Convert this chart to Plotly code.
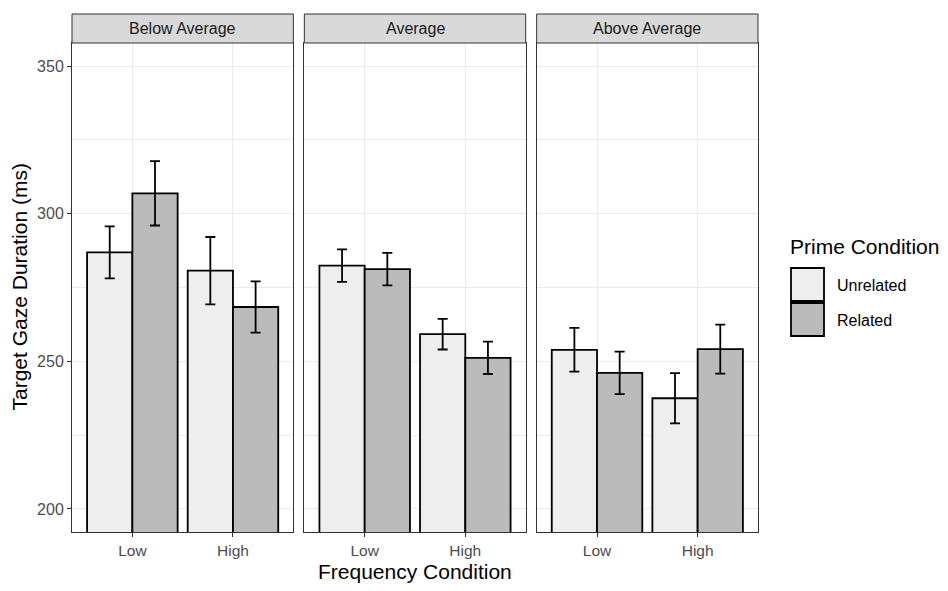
import plotly.graph_objects as go

# ---- data ----
panels = ["Below Average", "Average", "Above Average"]
freq = ["Low", "High"]
primes = ["Unrelated", "Related"]

unrelated_mean = {"Below Average": [286.9, 280.7], "Average": [282.4, 259.2], "Above Average": [253.9, 237.5]}
unrelated_se = {"Below Average": [8.8, 11.4], "Average": [5.5, 5.2], "Above Average": [7.4, 8.5]}
related_mean = {"Below Average": [306.9, 268.4], "Average": [281.2, 251.2], "Above Average": [246.1, 254.1]}
related_se = {"Below Average": [10.9, 8.7], "Average": [5.5, 5.5], "Above Average": [7.2, 8.3]}

y_ticks = [200, 250, 300, 350]
colors = {"Unrelated": "#EEEEEE", "Related": "#BBBBBB"}

FONT = "Liberation Sans, Arial, sans-serif"

# ---- layout geometry (pixels) ----
W, H = 948, 591
L, R, T, B = 72, 758, 43, 532
pw = R - L
ph = B - T
gap = 11
panel_w = (pw - 2 * gap) / 3

fig = go.Figure()
means = {"Unrelated": unrelated_mean, "Related": related_mean}
ses = {"Unrelated": unrelated_se, "Related": related_se}

for i, p in enumerate(panels):
    xa = "x" if i == 0 else f"x{i+1}"
    ya = "y" if i == 0 else f"y{i+1}"
    for pr in primes:
        fig.add_trace(go.Bar(
            x=freq, y=means[pr][p], base=0,
            name=pr, showlegend=False, offsetgroup=pr,
            marker=dict(color=colors[pr], line=dict(color="black", width=1.8)),
            error_y=dict(type="data", array=ses[pr][p], color="black", thickness=1.8, width=5),
            xaxis=xa, yaxis=ya, hoverinfo="skip",
        ))

layout = dict(
    width=W, height=H,
    margin=dict(l=L, r=W - R, t=T, b=H - B, pad=0),
    paper_bgcolor="white", plot_bgcolor="white",
    barmode="group", bargap=0.1, bargroupgap=0,
    font=dict(family=FONT, color="#4D4D4D", size=16),
    showlegend=False,
)

shapes = []
annotations = []
for i, p in enumerate(panels):
    x0 = (i * (panel_w + gap)) / pw
    x1 = (i * (panel_w + gap) + panel_w) / pw
    suffix = "" if i == 0 else str(i + 1)
    layout[f"xaxis{suffix}"] = dict(
        domain=[x0, x1], anchor=f"y{suffix}", type="category",
        categoryorder="array", categoryarray=freq,
        range=[-0.6, 1.6], showgrid=True, gridcolor="#EBEBEB", gridwidth=1.4,
        showline=True, mirror=True, linecolor="#333333", linewidth=1,
        ticks="outside", ticklen=4, tickcolor="#333333", tickwidth=1.2,
        tickfont=dict(family=FONT, size=15.5, color="#4D4D4D"), zeroline=False,
    )
    layout[f"yaxis{suffix}"] = dict(
        domain=[0, 1], anchor=f"x{suffix}",
        range=[192.2, 357.8], tickvals=y_ticks,
        showgrid=True, gridcolor="#EBEBEB", gridwidth=1.4,
        minor=dict(dtick=25, tick0=200, showgrid=True, gridcolor="#EBEBEB", gridwidth=0.7),
        showline=True, mirror=True, linecolor="#333333", linewidth=1,
        ticks="outside" if i == 0 else "", ticklen=4, tickcolor="#333333", tickwidth=1.2,
        showticklabels=(i == 0), zeroline=False,
        tickfont=dict(family=FONT, size=16, color="#4D4D4D"),
        matches="y" if i > 0 else None,
    )
    # strip
    shapes.append(dict(type="rect", xref="paper", yref="paper",
                       x0=x0, x1=x1, y0=1, y1=1 + 29 / ph,
                       fillcolor="#D9D9D9", line=dict(color="#333333", width=1), layer="above"))
    annotations.append(dict(text=p, xref="paper", yref="paper",
                            x=(x0 + x1) / 2, y=1 + 14.5 / ph, showarrow=False,
                            xanchor="center", yanchor="middle",
                            font=dict(family=FONT, size=16, color="#1A1A1A")))

# axis titles
annotations.append(dict(text="Target Gaze Duration (ms)", xref="paper", yref="paper",
                        x=(19 - L) / pw, y=0.5, textangle=-90, showarrow=False,
                        xanchor="center", yanchor="middle",
                        font=dict(family=FONT, size=21, color="black")))
annotations.append(dict(text="Frequency Condition", xref="paper", yref="paper",
                        x=(414.5 - L) / pw, y=(B - 571) / ph, showarrow=False,
                        xanchor="center", yanchor="middle",
                        font=dict(family=FONT, size=21, color="black")))

# legend
def px_x(v):
    return (v - L) / pw

def px_y(v):
    return (B - v) / ph

annotations.append(dict(text="Prime Condition", xref="paper", yref="paper",
                        x=px_x(788), y=px_y(246), showarrow=False,
                        xanchor="left", yanchor="middle",
                        font=dict(family=FONT, size=21, color="black")))
key_tops = [267, 302]
for pr, top in zip(primes, key_tops):
    shapes.append(dict(type="rect", xref="paper", yref="paper",
                       x0=px_x(791), x1=px_x(824), y0=px_y(top + 1), y1=px_y(top + 34),
                       fillcolor=colors[pr], line=dict(color="black", width=1.8)))
    annotations.append(dict(text=pr, xref="paper", yref="paper",
                            x=px_x(835), y=px_y(top + 18), showarrow=False,
                            xanchor="left", yanchor="middle",
                            font=dict(family=FONT, size=16, color="black")))

layout["shapes"] = shapes
layout["annotations"] = annotations
fig.update_layout(**layout)

fig.write_html("out.html")
